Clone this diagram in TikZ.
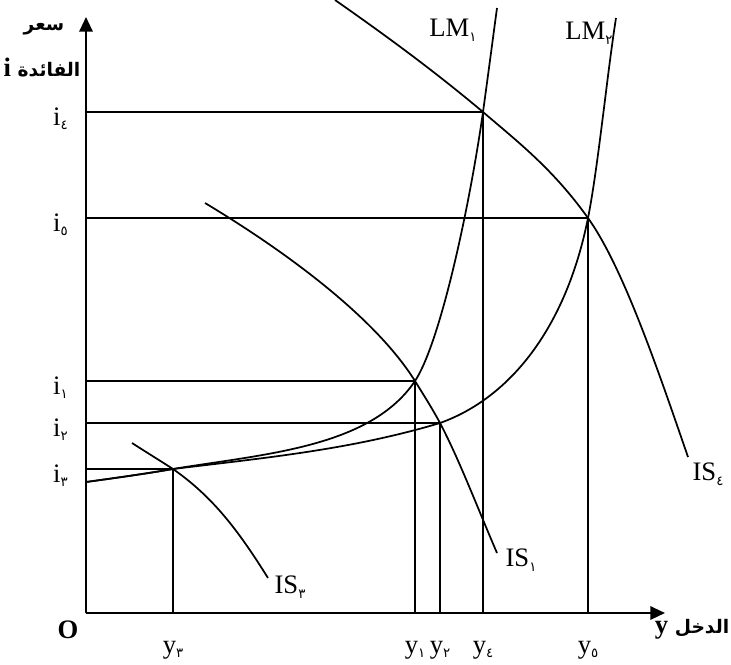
\documentclass[tikz,border=0pt]{standalone}
\usepackage{fontspec}
\setmainfont{Liberation Serif}
\newfontfamily\arabicfont[Script=Arabic]{DejaVu Sans}
\TeXXeTstate=1
\usetikzlibrary{arrows.meta}
\newcommand{\ad}[1]{\raisebox{-0.4ex}{\fontsize{10}{12}\selectfont\arabicfont #1}}
\newcommand{\arword}[1]{{\arabicfont\fontsize{14}{16}\selectfont #1}}

\begin{document}
\begin{tikzpicture}[x=0.75pt, y=-0.75pt,
    axis/.style={line width=1.6pt, -{Triangle[length=11pt,width=10pt]}},
    curve/.style={line width=1.3pt},
    guide/.style={line width=1.3pt},
    lbl/.style={font=\fontsize{20}{24}\selectfont, inner sep=0pt},
    arlbl/.style={font=\fontsize{20}{24}\selectfont\bfseries, inner sep=0pt}]
    \useasboundingbox (0,0) rectangle (731,664);

    % Axes
    \coordinate (O) at (86,613);
    \coordinate (ytip) at (86,17);
    \coordinate (xtip) at (665,613);
    \draw[axis] (O) -- (ytip);
    \draw[axis] (O) -- (xtip);
    \node[arlbl] (rate) at (44,29) {\beginR\arword{سعر}\endR};
    \node[arlbl] (interest) at (42,68) {\beginR\arword{الفائدة} i\endR};
    \node[arlbl] (income) at (692,629) {\beginR\arword{الدخل} y\endR};
    \node[arlbl] (origin) at (68,630) {O};

    % Equilibrium points
    \coordinate (E1) at (415,381);
    \coordinate (E2) at (440,423);
    \coordinate (E3) at (173,469);
    \coordinate (E4) at (483,112);
    \coordinate (E5) at (588,218);

    % Guide lines to the axes
    \foreach \p in {E1,E2,E3,E4,E5} {
        \draw[guide] (\p -| O) -- (\p) -- (\p |- O);
    }

    % LM curves
    \coordinate (LMstart) at (86,482);
    \draw[curve] (LMstart) .. controls (115,478) and (144,474) .. (E3)
        .. controls (263,454) and (370,448) .. (E1)
        .. controls (440,343) and (469,210) .. (E4)
        .. controls (490,61) and (494,30) .. (497,8);
    \draw[curve] (LMstart) .. controls (115,478) and (144,474) .. (E3)
        .. controls (263,458) and (350,450) .. (E2)
        .. controls (510,398) and (566,328) .. (E5)
        .. controls (598,168) and (607,75) .. (616,18);
    \node[lbl] (lm1) at (453,30) {LM\ad{١}};
    \node[lbl] (lm2) at (589,33) {LM\ad{٢}};

    % IS curves
    \draw[curve] (335,0) .. controls (385,35) and (433,70) .. (E4)
        .. controls (518,142) and (553,169) .. (E5)
        .. controls (623,267) and (658,370) .. (688,457);
    \draw[curve] (205,203) .. controls (285,251) and (375,317) .. (E1)
        .. controls (423,394) and (432,408) .. (E2)
        .. controls (459,459) and (478,509) .. (497,553);
    \draw[curve] (132,443) .. controls (146,452) and (159,460) .. (E3)
        .. controls (213,497) and (238,530) .. (268,578);
    \node[lbl] (is4) at (708,474) {IS\ad{٤}};
    \node[lbl] (is1) at (521,560) {IS\ad{١}};
    \node[lbl] (is3) at (290,587) {IS\ad{٣}};

    % Interest rate labels
    \foreach \p/\d/\n in {E4/٤/i4, E5/٥/i5, E1/١/i1, E2/٢/i2, E3/٣/i3} {
        \node[lbl, anchor=base east] (\n) at ([yshift=-13*0.75pt]\p -| 68,0) {i\ad{\d}};
    }

    % Income labels
    \foreach \p/\d/\n in {E3/٣/y3, E1/١/y1, E2/٢/y2, E4/٤/y4, E5/٥/y5} {
        \node[lbl, anchor=base] (\n) at ([yshift=-40*0.75pt]\p |- O) {y\ad{\d}};
    }
\end{tikzpicture}
\end{document}
